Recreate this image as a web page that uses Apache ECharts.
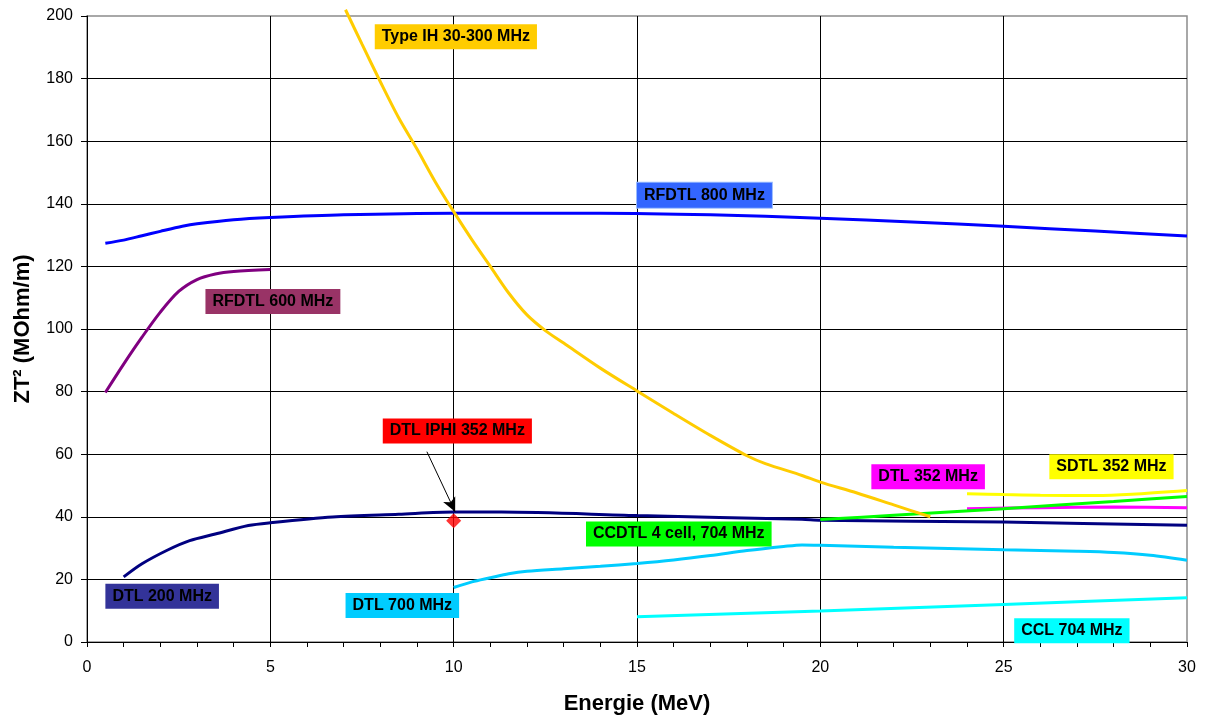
<!DOCTYPE html>
<html>
<head>
<meta charset="utf-8">
<script src="https://cdn.jsdelivr.net/npm/echarts@6/dist/echarts.min.js"></script>
<style>
  html, body { margin: 0; padding: 0; background: #fff; }
  #chart { width: 1206px; height: 720px; }
</style>
</head>
<body>
<div id="chart"></div>
<script>
// x: Energie (MeV), y: ZT^2 (MOhm/m)
var rfdtl800 = [[0.5,127.4],[1,128.4],[1.5,129.8],[2,131.2],[2.6,132.8],[3,133.6],[4,134.9],[5,135.6],[7,136.5],[10,137],[14,137],[17,136.5],[20,135.4],[22.5,134.2],[25,132.8],[27.5,131.3],[30,129.7]];
var rfdtl600 = [[0.5,79.7],[1,88.8],[1.5,97.4],[2,105.4],[2.5,112],[3,115.8],[3.5,117.6],[4,118.4],[5,119]];
var typeIH = [[7.05,202],[7.5,191],[8,179],[8.5,167.5],[9,157.5],[9.5,147],[10,137.5],[10.5,128.5],[11,120],[11.5,111.5],[12,104.5],[12.5,99.5],[13,95.5],[14,87.5],[15,80.2],[16,73],[17,66],[18,59.5],[18.5,57],[19.5,53.2],[20,51.1],[21,47.6],[22,43.8],[23,40]];
var dtl200 = [[1,20.8],[1.5,25],[2.2,29.4],[2.8,32.4],[3.5,34.5],[4.4,37.2],[5,38.1],[6.7,39.9],[8.5,40.8],[10,41.5],[11.3,41.5],[15,40.4],[19.5,39.2],[20,38.9],[25,38.3],[30,37.3]];
var dtlIphi = [[10,38.7]];
var dtl700 = [[10,17.4],[10.5,19.2],[11,20.5],[11.5,21.8],[12,22.6],[13,23.4],[14,24.2],[15,25.1],[16,26.2],[17,27.6],[18,29.2],[19,30.5],[19.5,31],[20,30.9],[22,30.3],[25,29.5],[27,29],[28,28.6],[29,27.7],[30,26.1]];
var ccl704 = [[15,8.1],[20,9.9],[25,12],[30,14.1]];
var dtl352 = [[24,42.6],[26,42.9],[28,43.1],[30,42.9]];
var sdtl352 = [[24,47.4],[25,47.1],[26,46.9],[27.5,46.8],[28.5,47.2],[30,48.4]];
var ccdtl704 = [[20,39.1],[22,40.5],[25,42.6],[28,44.9],[30,46.5]];

var chart = echarts.init(document.getElementById('chart'));

var font = 'Liberation Sans, Arial, sans-serif';

function tag(text, coord, bg, border) {
  return {
    coord: coord,
    symbol: 'rect',
    symbolSize: 1,
    itemStyle: { color: 'rgba(0,0,0,0)' },
    label: {
      show: true,
      position: 'inside',
      formatter: text,
      color: '#000',
      fontFamily: font,
      fontWeight: 'bold',
      fontSize: 16,
      backgroundColor: bg,
      borderColor: border || bg,
      borderWidth: border ? 1 : 0,
      padding: [5, 7, 4, 7]
    }
  };
}

function line(name, data, color, label) {
  return {
    name: name,
    type: 'line',
    data: data,
    smooth: 0.3,
    showSymbol: false,
    clip: false,
    lineStyle: { color: color, width: 3 },
    itemStyle: { color: color },
    markPoint: label ? { silent: true, animation: false, data: [label] } : undefined
  };
}

chart.setOption({
  animation: false,
  grid: {
    left: 87, right: 19, top: 16, bottom: 76,
    show: true, borderColor: '#8c8c8c', borderWidth: 1.5
  },
  xAxis: {
    type: 'value', min: 0, max: 30, interval: 5,
    name: 'Energie (MeV)', nameLocation: 'middle', nameGap: 51,
    nameTextStyle: { fontFamily: font, fontWeight: 'bold', fontSize: 22, color: '#000' },
    axisLine: { lineStyle: { color: '#000', width: 1 } },
    axisTick: { show: true, length: 5, lineStyle: { color: '#000' } },
    minorTick: { show: true, splitNumber: 5, length: 5, lineStyle: { color: '#000' } },
    axisLabel: { fontFamily: font, fontSize: 16, color: '#000', margin: 18 },
    splitLine: { show: true, showMaxLine: false, lineStyle: { color: '#000', width: 1 } }
  },
  yAxis: {
    type: 'value', min: 0, max: 200, interval: 20,
    name: 'ZT² (MOhm/m)', nameLocation: 'middle', nameGap: 53,
    nameTextStyle: { fontFamily: font, fontWeight: 'bold', fontSize: 22, color: '#000' },
    axisLine: { show: true, lineStyle: { color: '#000', width: 1 } },
    axisTick: { show: true, length: 6, lineStyle: { color: '#000' } },
    axisLabel: { fontFamily: font, fontSize: 16, color: '#000', margin: 14 },
    splitLine: { show: true, showMaxLine: false, lineStyle: { color: '#000', width: 1 } }
  },
  series: [
    line('RFDTL 800 MHz', rfdtl800, '#0000ff', tag('RFDTL 800 MHz', [16.84, 142.7], '#3366ff', '#99bbff')),
    line('RFDTL 600 MHz', rfdtl600, '#800080', tag('RFDTL 600 MHz', [5.07, 108.8], '#993366')),
    line('DTL 200 MHz', dtl200, '#000080', tag('DTL 200 MHz', [2.05, 14.6], '#333399')),
    line('DTL 700 MHz', dtl700, '#00ccff', tag('DTL 700 MHz', [8.6, 11.7], '#00ccff')),
    line('CCL 704 MHz', ccl704, '#00ffff', tag('CCL 704 MHz', [26.86, 3.6], '#00ffff')),
    line('DTL 352 MHz', dtl352, '#ff00ff', tag('DTL 352 MHz', [22.94, 52.8], '#ff00ff')),
    line('SDTL 352 MHz', sdtl352, '#ffff00', tag('SDTL 352 MHz', [27.94, 56], '#ffff00')),
    line('CCDTL 4 cell, 704 MHz', ccdtl704, '#00ff00', tag('CCDTL 4 cell, 704 MHz', [16.14, 34.5], '#00ff00')),
    line('Type IH 30-300 MHz', typeIH, '#ffcc00', tag('Type IH 30-300 MHz', [10.06, 193.4], '#ffcc00')),
    {
      name: 'DTL IPHI 352 MHz',
      type: 'scatter',
      data: dtlIphi,
      symbol: 'diamond',
      symbolSize: 15,
      itemStyle: { color: '#ff0000' },
      markPoint: { silent: true, data: [tag('DTL IPHI 352 MHz', [10.1, 67.4], '#ff0000')] },
      markLine: {
        silent: true,
        symbol: ['none', 'arrow'],
        symbolSize: [10, 14],
        lineStyle: { color: '#000', width: 1, type: 'solid' },
        label: { show: false },
        data: [[{ coord: [9.27, 60.8] }, { coord: [10.04, 41.6] }]]
      }
    }
  ]
});
</script>
</body>
</html>
